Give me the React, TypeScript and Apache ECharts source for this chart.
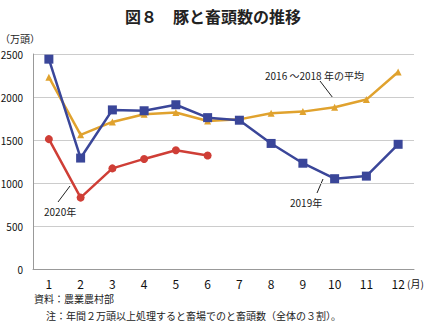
import React, { useEffect, useRef } from "react";
import * as echarts from "echarts";

const months = ["1", "2", "3", "4", "5", "6", "7", "8", "9", "10", "11", "12"];
const yTicks = [0, 500, 1000, 1500, 2000, 2500];
const avg1618 = [2230, 1560, 1710, 1800, 1820, 1720, 1740, 1810, 1830, 1880, 1970, 2290];
const y2019 = [2440, 1290, 1850, 1840, 1910, 1760, 1730, 1460, 1230, 1050, 1080, 1450];
const y2020 = [1510, 830, 1170, 1280, 1380, 1320];

const FONT = "'Noto Sans CJK JP', 'Noto Sans', sans-serif";

export default function App() {
  const ref = useRef<HTMLDivElement>(null);
  useEffect(() => {
    if (!ref.current) return;
    const chart = echarts.init(ref.current, undefined, { renderer: "svg" });
    chart.setOption({
      animation: false,
      backgroundColor: "#fff",
      textStyle: { fontFamily: FONT },
      title: {
        text: "図８　豚と畜頭数の推移",
        left: "center",
        top: 3,
        textStyle: { fontSize: 16, fontWeight: "bold", color: "#222", fontFamily: FONT },
      },
      grid: { left: 33, right: 12, top: 54, bottom: 54, outerBoundsMode: "none", containLabel: false },
      xAxis: {
        type: "category",
        data: months,
        boundaryGap: true,
        axisLine: { lineStyle: { color: "#999" } },
        axisTick: { show: false },
        axisLabel: { color: "#111", fontSize: 12, margin: 8, fontFamily: FONT },
      },
      yAxis: {
        type: "value",
        min: yTicks[0],
        max: yTicks[yTicks.length - 1],
        interval: 500,
        axisLine: { show: true, lineStyle: { color: "#999" } },
        axisTick: { show: false },
        splitLine: { lineStyle: { color: "#ccc" } },
        axisLabel: { color: "#111", fontSize: 10, margin: 10, fontFamily: FONT, formatter: (v: number) => String(v) },
      },
      series: [
        {
          name: "2016～2018年の平均",
          type: "line",
          data: avg1618,
          symbol: "triangle",
          symbolSize: 7,
          itemStyle: { color: "#e0a22e" },
          lineStyle: { width: 2.5, color: "#e0a22e" },
        },
        {
          name: "2019年",
          type: "line",
          data: y2019,
          symbol: "rect",
          symbolSize: 9,
          itemStyle: { color: "#3a4699" },
          lineStyle: { width: 2.5, color: "#3a4699" },
        },
        {
          name: "2020年",
          type: "line",
          data: y2020,
          symbol: "circle",
          symbolSize: 8,
          itemStyle: { color: "#cf3e36" },
          lineStyle: { width: 2.5, color: "#cf3e36" },
        },
      ],
      graphic: [
        { type: "text", left: 0, top: 33, style: { text: "（万頭）", fontSize: 10, fill: "#222", fontFamily: FONT } },
        { type: "text", left: 407, top: 278, style: { text: "(月)", fontSize: 10, fill: "#111", fontFamily: FONT } },
        { type: "text", left: 265, top: 70, style: { text: "2016 ～2018 年の平均", fontSize: 10, fill: "#222", fontFamily: FONT } },
        { type: "line", shape: { x1: 320, y1: 81, x2: 333, y2: 98 }, style: { stroke: "#222", lineWidth: 1 } },
        { type: "text", left: 290, top: 197, style: { text: "2019年", fontSize: 10, fill: "#222", fontFamily: FONT } },
        { type: "line", shape: { x1: 323, y1: 179, x2: 317, y2: 193 }, style: { stroke: "#222", lineWidth: 1 } },
        { type: "text", left: 44, top: 206, style: { text: "2020年", fontSize: 10, fill: "#222", fontFamily: FONT } },
        { type: "line", shape: { x1: 70, y1: 186, x2: 58, y2: 202 }, style: { stroke: "#222", lineWidth: 1 } },
        { type: "text", left: 34, top: 293, style: { text: "資料：農業農村部", fontSize: 10, fill: "#222", fontFamily: FONT } },
        { type: "text", left: 46, top: 310, style: { text: "注：年間２万頭以上処理すると畜場でのと畜頭数（全体の３割）。", fontSize: 10, fill: "#222", fontFamily: FONT } },
      ],
    });
    return () => chart.dispose();
  }, []);
  return <div ref={ref} style={{ width: 426, height: 323, position: "absolute", left: 0, top: 0 }} />;
}
